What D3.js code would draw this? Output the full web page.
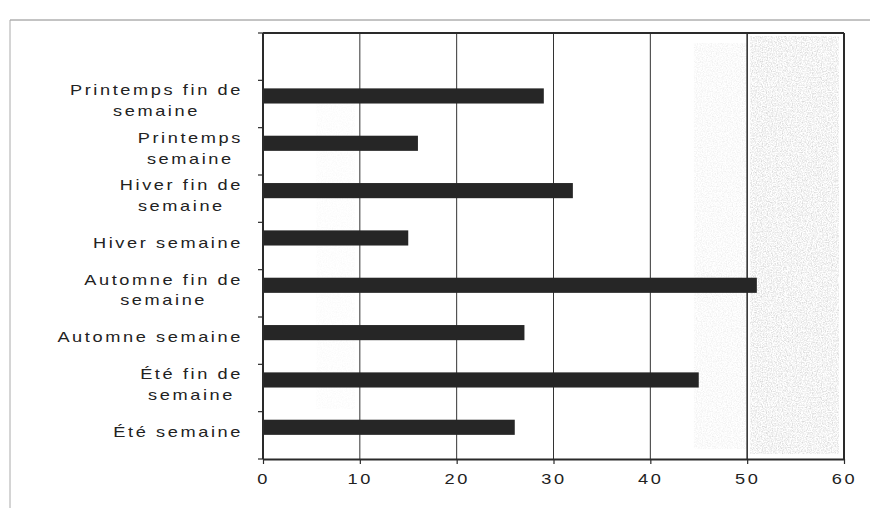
<!DOCTYPE html>
<html>
<head>
<meta charset="utf-8">
<script src="https://cdn.jsdelivr.net/npm/d3@7"></script>
<style>
  html, body { margin: 0; padding: 0; background: #fff; }
  svg { display: block; }
</style>
</head>
<body>
<svg id="chart" width="873" height="508"></svg>
<script>
// ---- data (top to bottom as in the picture) ----
const categories = [
  "Printemps fin de\nsemaine",
  "Printemps\nsemaine",
  "Hiver fin de\nsemaine",
  "Hiver semaine",
  "Automne fin de\nsemaine",
  "Automne semaine",
  "Été fin de\nsemaine",
  "Été semaine"
];
const values = [29, 16, 32, 15, 51, 27, 45, 26];
const xTicks = [0, 10, 20, 30, 40, 50, 60];

// ---- layout ----
const svg = d3.select("#chart");
const pLeft = 263, pRight = 844, pTop = 33, pBottom = 459;
const FONT = "'Liberation Sans', Arial, Helvetica, sans-serif";
const SX = 1.3;

const x = d3.scaleLinear().domain([0, 60]).range([pLeft, pRight]);
// first band is an empty slot above the bars
const y = d3.scaleBand().domain([""].concat(categories)).range([pTop, pBottom]).paddingInner(0).paddingOuter(0);

// speckle filter for scanned grey shading
const defs = svg.append("defs");
const f = defs.append("filter").attr("id", "speck").attr("x", 0).attr("y", 0).attr("width", 1).attr("height", 1);
f.append("feTurbulence").attr("type", "fractalNoise").attr("baseFrequency", 0.8).attr("numOctaves", 2).attr("seed", 4).attr("result", "noise");
f.append("feColorMatrix").attr("in", "noise").attr("type", "matrix")
  .attr("values", "0 0 0 0 0.6  0 0 0 0 0.6  0 0 0 0 0.6  1.9 0 0 0 -0.7").attr("result", "sp");
f.append("feComposite").attr("in", "sp").attr("in2", "SourceGraphic").attr("operator", "in");

// outer frame (scan)
svg.append("line").attr("x1", 10).attr("x2", 870).attr("y1", 20).attr("y2", 20).attr("stroke", "#888").attr("stroke-width", 1);
svg.append("line").attr("x1", 10).attr("x2", 10).attr("y1", 20).attr("y2", 508).attr("stroke", "#aaa").attr("stroke-width", 1);

// shading
svg.append("rect").attr("x", x(50) + 3).attr("y", pTop + 3).attr("width", x(60) - x(50) - 8).attr("height", pBottom - pTop - 8)
  .attr("fill", "#fff").attr("filter", "url(#speck)").attr("opacity", 0.85);
svg.append("rect").attr("x", x(44.5)).attr("y", pTop + 10).attr("width", x(50) - x(44.5)).attr("height", pBottom - pTop - 20)
  .attr("fill", "#fff").attr("filter", "url(#speck)").attr("opacity", 0.35);
svg.append("rect").attr("x", x(5.5)).attr("y", pTop + 60).attr("width", x(9.5) - x(5.5)).attr("height", pBottom - pTop - 110)
  .attr("fill", "#fff").attr("filter", "url(#speck)").attr("opacity", 0.12);

// gridlines
svg.append("g").selectAll("line").data(xTicks.filter(d => d > 0 && d < 60)).join("line")
  .attr("x1", d => x(d)).attr("x2", d => x(d)).attr("y1", pTop).attr("y2", pBottom)
  .attr("stroke", "#333").attr("stroke-width", d => d === 50 ? 1.6 : 1);

// bars
const bw = y.bandwidth();
svg.append("g").selectAll("rect").data(categories).join("rect")
  .attr("x", x(0)).attr("y", d => y(d) + bw * 0.17)
  .attr("width", (d, i) => x(values[i]) - x(0))
  .attr("height", bw * 0.32)
  .attr("fill", "#262626");

// plot frame
svg.append("line").attr("x1", pLeft).attr("x2", pRight).attr("y1", pTop).attr("y2", pTop).attr("stroke", "#2a2a2a").attr("stroke-width", 2);
svg.append("line").attr("x1", pRight).attr("x2", pRight).attr("y1", pTop).attr("y2", pBottom).attr("stroke", "#2a2a2a").attr("stroke-width", 2);

// x axis
const xAxis = svg.append("g").attr("transform", `translate(0,${pBottom})`)
  .call(d3.axisBottom(x).tickValues(xTicks).tickSize(5).tickSizeOuter(0).tickPadding(10));
xAxis.select(".domain").attr("stroke", "#2a2a2a").attr("stroke-width", 2);
xAxis.selectAll(".tick line").attr("stroke", "#2a2a2a").attr("stroke-width", 1.2);
xAxis.selectAll(".tick text")
  .attr("font-family", FONT).attr("font-size", 14).attr("fill", "#222")
  .attr("letter-spacing", "2px")
  .attr("transform", `scale(${SX},1)`);

// y axis line + ticks at band boundaries
svg.append("line").attr("x1", pLeft).attr("x2", pLeft).attr("y1", pTop).attr("y2", pBottom).attr("stroke", "#2a2a2a").attr("stroke-width", 2);
svg.append("g").selectAll("line").data(y.domain().concat(["__end"])).join("line")
  .attr("x1", pLeft - 5).attr("x2", pLeft)
  .attr("y1", d => d === "__end" ? pBottom : y(d))
  .attr("y2", d => d === "__end" ? pBottom : y(d))
  .attr("stroke", "#2a2a2a").attr("stroke-width", 1.2);

// category labels (lines centred within a right-aligned block)
const labelRight = 243, lineH = 21;
categories.forEach(cat => {
  const lines = cat.split("\n");
  const cy = y(cat) + bw / 2 - 3.5;
  const g = svg.append("g");
  const texts = lines.map((ln, k) => g.append("text")
    .text(ln)
    .attr("font-family", FONT).attr("font-size", 14).attr("fill", "#222")
    .attr("letter-spacing", "2px")
    .attr("text-anchor", "middle")
    .attr("dominant-baseline", "central")
    .attr("x", 0)
    .attr("y", cy + (k - (lines.length - 1) / 2) * lineH));
  const maxW = d3.max(texts, t => t.node().getComputedTextLength()) * SX;
  const cx = labelRight - maxW / 2;
  g.attr("transform", `translate(${cx},0) scale(${SX},1)`);
});
</script>
</body>
</html>
